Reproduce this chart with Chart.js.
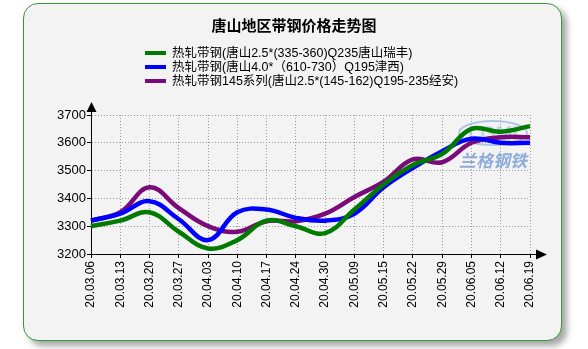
<!DOCTYPE html>
<html><head><meta charset="utf-8">
<script src="https://cdn.jsdelivr.net/npm/chart.js@4"></script>
<style>
html,body{margin:0;padding:0;background:#fff;width:588px;height:349px;overflow:hidden;}
#panel{position:absolute;left:23px;top:3px;width:537px;height:336px;background:#f3f3f3;border:1.5px solid #3a963a;border-radius:15px;box-shadow:5px 5px 6px rgba(0,0,0,0.35);}
#wrap{position:absolute;left:0;top:0;width:588px;height:349px;}
#title{position:absolute;left:0;width:588px;top:14px;text-align:center;font:bold 15px "Noto Sans CJK SC",sans-serif;color:#000;}
#legend{position:absolute;left:145px;top:46px;font:12.5px "Liberation Sans","Noto Sans CJK SC",sans-serif;color:#000;}
.row{height:14px;line-height:14px;white-space:nowrap;display:flex;align-items:center;}
.sw{width:21px;height:4px;margin-right:6px;}
</style></head>
<body>
<div id="panel"></div>
<div id="wrap"><canvas id="c" width="588" height="349"></canvas></div>
<div id="title"></div>
<div id="legend"></div>
<script>
const chartTitle = "唐山地区带钢价格走势图";
const categories = ["20.03.06","20.03.13","20.03.20","20.03.27","20.04.03","20.04.10","20.04.17","20.04.24","20.04.30","20.05.09","20.05.15","20.05.22","20.05.29","20.06.05","20.06.12","20.06.19"];
const seriesNames = ["热轧带钢(唐山2.5*(335-360)Q235唐山瑞丰)","热轧带钢(唐山4.0*（610-730）Q195津西)","热轧带钢145系列(唐山2.5*(145-162)Q195-235经安)"];
const ruifeng = [3300,3320,3350,3280,3220,3250,3320,3300,3275,3360,3450,3520,3560,3650,3640,3660];
const jinxi   = [3320,3345,3390,3325,3250,3350,3360,3330,3320,3345,3440,3510,3570,3615,3600,3600];
const jingan  = [3320,3350,3440,3365,3300,3280,3318,3318,3345,3405,3460,3540,3530,3600,3620,3620];
const yTicks = [3200,3300,3400,3500,3600,3700];
const watermark = "兰格钢铁";
const colors = ["#007a00","#0000ff","#7a0a7a"];
const seriesValues = [ruifeng, jinxi, jingan];

document.getElementById('title').textContent = chartTitle;
const lg = document.getElementById('legend');
seriesNames.forEach((n,i)=>{
  const r=document.createElement('div');r.className='row';
  const s=document.createElement('div');s.className='sw';s.style.background=colors[i];
  const t=document.createElement('span');t.textContent=n;
  r.appendChild(s);r.appendChild(t);lg.appendChild(r);
});

const deco = {
  id:'deco',
  beforeDatasetsDraw(chart){
    const {ctx, chartArea:a} = chart;
    ctx.save();
    const cx = a.right-37, cy = a.top+18;
    ctx.strokeStyle='rgba(120,160,215,0.55)';ctx.lineWidth=2;
    ctx.beginPath();ctx.ellipse(cx,cy,34,12,0,0,Math.PI*2);ctx.stroke();
    ctx.fillStyle='rgba(120,160,215,0.35)';
    ctx.font='bold 20px "Liberation Sans",sans-serif';ctx.textAlign='center';ctx.textBaseline='middle';
    ctx.fillText('LGMI',cx,cy+1);
    ctx.fillStyle='rgba(110,150,210,0.75)';
    ctx.font='italic bold 17px "Noto Sans CJK SC",sans-serif';
    ctx.fillText(watermark,a.right-37,a.top+46);
    ctx.restore();
  },
  afterDraw(chart){
    const {ctx, chartArea:a} = chart;
    ctx.save();
    ctx.fillStyle='#000';ctx.strokeStyle='#000';ctx.lineWidth=1;
    ctx.beginPath();ctx.moveTo(a.left+0.5,a.top);ctx.lineTo(a.left+0.5,a.top-4);ctx.stroke();
    ctx.beginPath();ctx.moveTo(a.left+0.5,a.top-13);ctx.lineTo(a.left-4.5,a.top-3);ctx.lineTo(a.left+5.5,a.top-3);ctx.closePath();ctx.fill();
    ctx.beginPath();ctx.moveTo(a.right,a.bottom+0.5);ctx.lineTo(a.right+7,a.bottom+0.5);ctx.stroke();
    ctx.beginPath();ctx.moveTo(a.right+17,a.bottom+0.5);ctx.lineTo(a.right+6,a.bottom-4.5);ctx.lineTo(a.right+6,a.bottom+5.5);ctx.closePath();ctx.fill();
    ctx.restore();
  }
};

new Chart(document.getElementById('c'),{
  type:'line',
  data:{labels:categories,datasets:seriesNames.map((n,i)=>({label:n,data:seriesValues[i],borderColor:colors[i],backgroundColor:colors[i],borderWidth:4.5,pointRadius:0,tension:0.4,fill:false}))},
  options:{
    responsive:false,animation:false,
    layout:{padding:{left:51,right:58,top:115,bottom:35}},
    plugins:{legend:{display:false},title:{display:false},tooltip:{enabled:false}},
    scales:{
      x:{
        offset:false,
        afterFit(s){s.height=60;},
        grid:{color:'#9a9a9a',lineWidth:1,tickLength:4,tickColor:'#000',drawOnChartArea:true},
        border:{color:'#000',width:1,dash:[1,2]},
        ticks:{autoSkip:false,minRotation:90,maxRotation:90,padding:3,color:'#000',font:{family:'"Liberation Sans",sans-serif',size:12}}
      },
      y:{
        min:3200,max:3700,
        afterFit(s){s.width=40;},
        afterBuildTicks(s){s.ticks=yTicks.map(v=>({value:v}));},
        grid:{color:'#9a9a9a',lineWidth:1,tickLength:4,tickColor:'#000'},
        border:{color:'#000',width:1,dash:[1,2]},
        ticks:{padding:1,color:'#000',callback:v=>String(v),font:{family:'"Liberation Sans",sans-serif',size:13}}
      }
    }
  },
  plugins:[deco]
});
</script>
</body></html>
